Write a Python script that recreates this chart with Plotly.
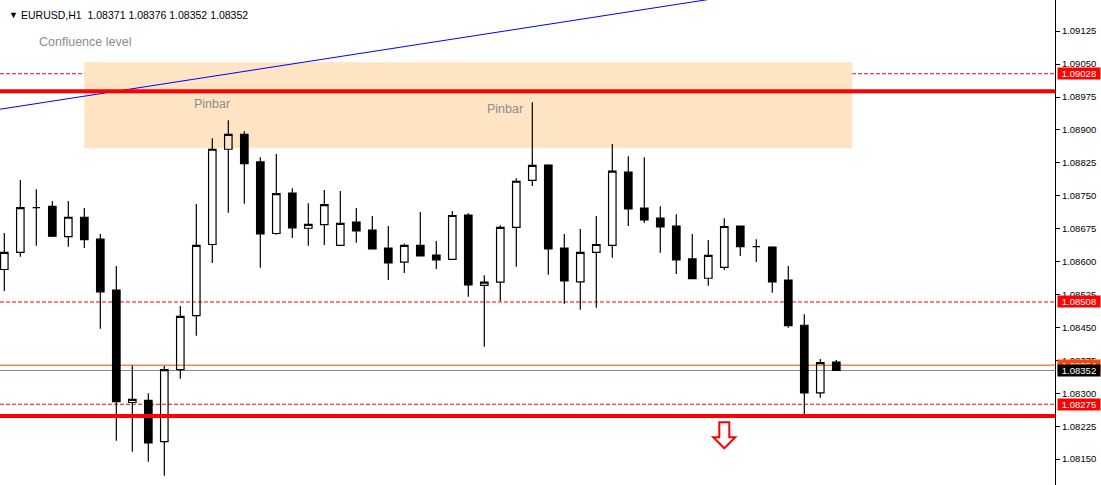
import plotly.graph_objects as go

# EURUSD H1 candles (oldest first)
opens = [1.08582, 1.08621, 1.08723, 1.08726, 1.08657, 1.08701, 1.08651, 1.08535, 1.08279, 1.08284,
         1.08190, 1.08354, 1.08477, 1.08639, 1.08856, 1.08890, 1.08827, 1.08664, 1.08756, 1.08676,
         1.08684, 1.08637, 1.08690, 1.08672, 1.08631, 1.08599, 1.08637, 1.08615, 1.08605, 1.08706,
         1.08546, 1.08553, 1.08678, 1.08785, 1.08820, 1.08631, 1.08554, 1.08621, 1.08637, 1.08804,
         1.08722, 1.08699, 1.08681, 1.08606, 1.08562, 1.08587, 1.08681, 1.08634, 1.08633, 1.08558,
         1.08455, 1.08301, 1.08371]
highs = [1.08665, 1.08786, 1.08765, 1.08738, 1.08738, 1.08722, 1.08663, 1.08590, 1.08363, 1.08300,
         1.08362, 1.08499, 1.08731, 1.08881, 1.08922, 1.08897, 1.08838, 1.08845, 1.08767, 1.08733,
         1.08763, 1.08761, 1.08722, 1.08704, 1.08681, 1.08641, 1.08713, 1.08647, 1.08715, 1.08710,
         1.08569, 1.08683, 1.08790, 1.08963, 1.08822, 1.08663, 1.08674, 1.08704, 1.08868, 1.08840,
         1.08838, 1.08726, 1.08708, 1.08663, 1.08649, 1.08699, 1.08681, 1.08651, 1.08635, 1.08590,
         1.08480, 1.08378, 1.08376]
lows = [1.08533, 1.08611, 1.08636, 1.08656, 1.08634, 1.08631, 1.08447, 1.08192, 1.08167, 1.08144,
        1.08112, 1.08333, 1.08431, 1.08597, 1.08711, 1.08732, 1.08586, 1.08661, 1.08654, 1.08636,
        1.08638, 1.08637, 1.08643, 1.08629, 1.08558, 1.08574, 1.08613, 1.08583, 1.08605, 1.08520,
        1.08406, 1.08510, 1.08588, 1.08772, 1.08570, 1.08504, 1.08490, 1.08495, 1.08609, 1.08681,
        1.08688, 1.08620, 1.08572, 1.08561, 1.08545, 1.08581, 1.08613, 1.08599, 1.08529, 1.08449,
        1.08250, 1.08290, 1.08352]
closes = [1.08621, 1.08723, 1.08723, 1.08658, 1.08701, 1.08650, 1.08531, 1.08281, 1.08286, 1.08187,
          1.08354, 1.08475, 1.08637, 1.08856, 1.08890, 1.08823, 1.08663, 1.08755, 1.08677, 1.08685,
          1.08730, 1.08687, 1.08670, 1.08629, 1.08597, 1.08637, 1.08613, 1.08604, 1.08705, 1.08547,
          1.08553, 1.08678, 1.08783, 1.08819, 1.08629, 1.08556, 1.08621, 1.08639, 1.08806, 1.08720,
          1.08695, 1.08679, 1.08604, 1.08561, 1.08614, 1.08680, 1.08634, 1.08634, 1.08554, 1.08454,
          1.08301, 1.08370, 1.08352]
bars = list(range(len(closes)))

# chart objects
support_resistance = [1.08988, 1.08248]          # thick red lines
dashed_levels = [1.09028, 1.08508, 1.08275]      # dotted red lines
ask_price = 1.08364
bid_price = 1.08352
zone_bars = [5, 53]                              # confluence rectangle
zone_prices = [1.08858, 1.09054]
trend_bars = [-1, 50]
trend_prices = [1.08943, 1.09231]
pinbar_bars = [13, 31.3]
pinbar_prices = [1.08958, 1.08947]
arrow_bar = 45
arrow_price = 1.08234
header = "EURUSD,H1  1.08371 1.08376 1.08352 1.08352"

fig = go.Figure()

fig.add_trace(go.Candlestick(
    x=bars, open=opens, high=highs, low=lows, close=closes,
    increasing=dict(line=dict(color="black", width=1.2), fillcolor="rgba(0,0,0,0)"),
    decreasing=dict(line=dict(color="black", width=1.2), fillcolor="black"),
    whiskerwidth=0, showlegend=False, hoverinfo="skip",
))

fig.add_trace(go.Scatter(
    x=trend_bars, y=trend_prices, mode="lines",
    line=dict(color="#0000ff", width=1), showlegend=False, hoverinfo="skip",
))

shapes = [dict(type="rect", xref="x", yref="y", x0=zone_bars[0], x1=zone_bars[1],
               y0=zone_prices[0], y1=zone_prices[1], fillcolor="#ffe4c4",
               line=dict(width=0), layer="below")]
for lvl in dashed_levels:
    shapes.append(dict(type="line", xref="x domain", yref="y", x0=0, x1=1, y0=lvl, y1=lvl,
                       line=dict(color="#ff0000", width=1, dash="4px,2px"), layer="below"))
shapes.append(dict(type="line", xref="x domain", yref="y", x0=0, x1=1, y0=ask_price, y1=ask_price,
                   line=dict(color="#ff4500", width=1), layer="below"))
shapes.append(dict(type="line", xref="x domain", yref="y", x0=0, x1=1, y0=bid_price, y1=bid_price,
                   line=dict(color="#778899", width=1), layer="below"))
for lvl in support_resistance:
    shapes.append(dict(type="line", xref="x domain", yref="y", x0=0, x1=1, y0=lvl, y1=lvl,
                       line=dict(color="#ff0000", width=4), layer="above"))
# hollow down arrow
shapes.append(dict(type="path", xref="x", yref="y", xsizemode="pixel", ysizemode="pixel",
                   xanchor=arrow_bar, yanchor=arrow_price,
                   path="M -5,0 L 5,0 L 5,-15 L 11,-15 L 0,-26 L -11,-15 L -5,-15 Z",
                   fillcolor="white", line=dict(color="#ff0000", width=2), layer="above"))

annotations = [
    dict(text="▼", xref="paper", yref="paper", x=7 / 1101, y=1 - 15 / 485, xanchor="left",
         yanchor="middle", showarrow=False, font=dict(size=9, color="black")),
    dict(text=header, xref="paper", yref="paper", x=19 / 1101, y=1 - 15 / 485, xanchor="left",
         yanchor="middle", showarrow=False, font=dict(size=10.5, color="black")),
    dict(text="Confluence level", xref="paper", yref="paper", x=37 / 1101, y=1 - 42 / 485,
         xanchor="left", yanchor="middle", showarrow=False, font=dict(size=12.5, color="#8c8c8c")),
]
for bx, py in zip(pinbar_bars, pinbar_prices):
    annotations.append(dict(text="Pinbar", x=bx, y=py, xref="x", yref="y", showarrow=False,
                            font=dict(size=12.5, color="#8c8c8c")))

# price tags on the axis
tags = [(lvl, "#ff0000", "white") for lvl in dashed_levels]
tags.append((ask_price, "#ff4500", "white"))
tags.append((bid_price, "black", "white"))
for price, bg, fg in tags:
    annotations.append(dict(text=f"{price:.5f}", xref="paper", yref="y", x=1057 / 1101, y=price,
                            xanchor="left", yanchor="middle", showarrow=False, bgcolor=bg,
                            width=42, borderpad=0, font=dict(size=9.5, color=fg)))

fig.update_layout(
    width=1101, height=485,
    margin=dict(l=0, r=0, t=0, b=0),
    paper_bgcolor="white", plot_bgcolor="white",
    font=dict(family="Liberation Sans, Arial, sans-serif"),
    shapes=shapes, annotations=annotations,
    boxgap=0.33,
    xaxis=dict(range=[-0.27, 65.67], domain=[0, 1055 / 1101], showgrid=False, zeroline=False,
               showticklabels=False, rangeslider=dict(visible=False), fixedrange=True),
    yaxis=dict(range=[1.08091, 1.09196], side="right", showgrid=False, zeroline=False,
               tick0=1.08150, dtick=0.00075, tickformat=".5f", ticks="outside", ticklen=4,
               tickcolor="black", showline=True, linecolor="black", linewidth=1,
               tickfont=dict(size=9.5, color="black"), automargin=False, fixedrange=True),
)

# drop the page margin so the 1101x485 figure fills the window exactly
fig.write_html("out.html", config={"displayModeBar": False},
               post_script="document.body.style.margin='0';document.body.style.overflow='hidden';")
